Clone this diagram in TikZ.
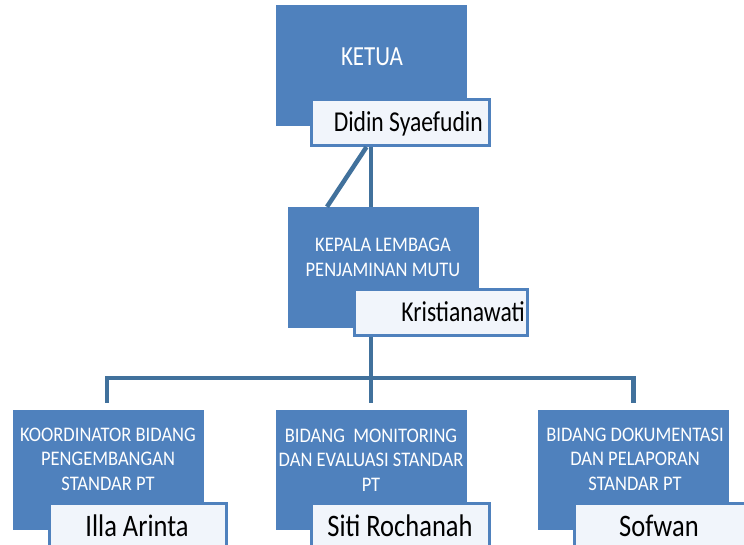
\documentclass[tikz,border=0pt]{standalone}
\usepackage{fontspec}
\usepackage{graphicx}
\setmainfont{Carlito}
\usetikzlibrary{calc}
\definecolor{boxblue}{HTML}{4F81BD}
\definecolor{linkblue}{HTML}{41719C}
\definecolor{namefill}{HTML}{F1F5FB}
\newcommand\vstretch[2]{\scalebox{1}[#1]{#2}}
\newcommand\titlelines[1]{\vstretch{1.12}{\begin{tabular}{@{}c@{}}#1\end{tabular}}}
\tikzset{
  mainbox/.style={fill=boxblue, draw=none, minimum width=191pt, minimum height=121pt, inner sep=0pt},
  namebox/.style={fill=namefill, draw=boxblue, line width=3pt, minimum width=178pt, minimum height=46pt, inner sep=0pt},
  titletext/.style={text=white, font=\fontsize{18.5}{22}\selectfont, align=center, inner sep=0pt},
  bigtitle/.style={text=white, font=\fontsize{23}{28}\selectfont, inner sep=0pt},
  nametext/.style={text=black, font=\fontsize{23.6}{28}\selectfont, inner sep=0pt},
  bignametext/.style={text=black, font=\fontsize{26.5}{30}\selectfont, inner sep=0pt},
  conn/.style={draw=linkblue, line width=4.5pt}
}
\begin{document}
\begin{tikzpicture}[x=1pt,y=-1pt]
\useasboundingbox (0,0) rectangle (744,544);
\clip (0,0) rectangle (744,544);
% top
\node[mainbox] (ketua) at (371.5,65.5) {};
\node[bigtitle, anchor=base] (ketuat) at (372,65) {\vstretch{1.2}{KETUA}};
\node[namebox] (didin) at (400.5,122.5) {};
\node[nametext, anchor=base east] (didint) at (483,131.5) {\vstretch{1.22}{Didin Syaefudin}};
% second level
\node[mainbox] (kepala) at (383.5,267.5) {};
\node[titletext] (kepalat) at (383,259) {\titlelines{KEPALA LEMBAGA\\PENJAMINAN MUTU}};
\node[namebox, minimum width=173pt] (kris) at (441,312.5) {};
\node[nametext, anchor=base east] (krist) at (525,321.5) {\vstretch{1.22}{Kristianawati}};
% bottom level
\node[mainbox, minimum height=120pt] (lbox) at (108.5,470) {};
\node[titletext] (lboxt) at (108,461) {\titlelines{KOORDINATOR BIDANG\\PENGEMBANGAN\\STANDAR PT}};
\node[namebox, minimum width=177pt] (lname) at (138,526.5) {};
\node[bignametext, anchor=base] (lnamet) at (137,536) {\vstretch{1.18}{Illa Arinta}};

\node[mainbox, minimum height=120pt] (mbox) at (371.5,470) {};
\node[titletext] (mboxt) at (371,462) {\titlelines{BIDANG\ \ MONITORING\\DAN EVALUASI STANDAR\\PT}};
\node[namebox] (mname) at (400.5,526.5) {};
\node[bignametext, anchor=base] (mnamet) at (400,536) {\vstretch{1.18}{Siti Rochanah}};

\node[mainbox, minimum height=120pt] (rbox) at (633.5,470) {};
\node[titletext] (rboxt) at (635,461) {\titlelines{BIDANG DOKUMENTASI\\DAN PELAPORAN\\STANDAR PT}};
\node[namebox, minimum width=177pt] (rname) at (663,526.5) {};
\node[bignametext, anchor=base] (rnamet) at (659,536) {\vstretch{1.18}{Sofwan}};
% connectors
\coordinate (j) at (371,378);
\draw[conn] ($(didin.south)+(-34,0)$) -- ($(kepala.north)+(-56.5,0)$);
\draw[conn] ($(didin.south)+(-29.5,0)$) coordinate (dtop) -- (dtop |- kepala.north);
\draw[conn] (kris.south -| j) -- (j);
\draw[conn] ([xshift=-1.5pt,yshift=7pt]lbox.north) |- (j) -| ([yshift=7pt]rbox.north);
\draw[conn] (j) -- ([yshift=7pt]mbox.north -| j);
\end{tikzpicture}
\end{document}
